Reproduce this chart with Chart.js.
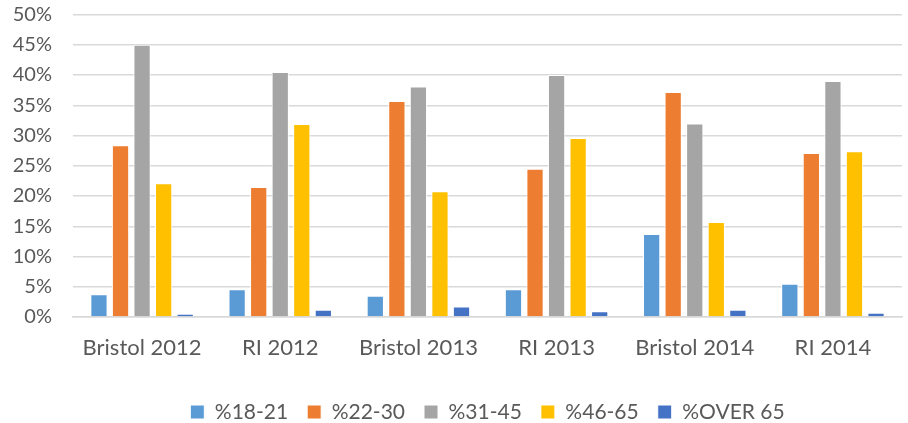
<!DOCTYPE html>
<html lang="en">
<head>
    <meta charset="UTF-8">
    <title>Age groups by year</title>
    <script src="https://cdn.jsdelivr.net/npm/chart.js"></script>
    <style>
        body { margin: 0; padding: 0; background: white; }
        .chart-box { width: 908px; height: 423px; }
    </style>
</head>
<body>
    <div class="chart-box">
        <canvas id="ageChart"></canvas>
    </div>

    <script>
        // categories and series (percent values)
        const categories = ['Bristol 2012', 'RI 2012', 'Bristol 2013', 'RI 2013', 'Bristol 2014', 'RI 2014'];
        const seriesNames = ['%18-21', '%22-30', '%31-45', '%46-65', '%OVER 65'];
        const age18to21 = [3.75, 4.6, 3.5, 4.6, 13.7, 5.5];
        const age22to30 = [28.4, 21.5, 35.7, 24.5, 37.2, 27.1];
        const age31to45 = [45.0, 40.5, 38.1, 40.0, 32.0, 39.0];
        const age46to65 = [22.1, 31.9, 20.8, 29.6, 15.7, 27.4];
        const ageOver65 = [0.55, 1.2, 1.75, 0.95, 1.2, 0.7];
        const seriesColors = ['#5B9BD5', '#ED7D31', '#A5A5A5', '#FFC000', '#4472C4'];

        const allSeries = [age18to21, age22to30, age31to45, age46to65, ageOver65];
        const textColor = '#595959';
        const fontFamily = 'Lato, Carlito, sans-serif';

        const ctx = document.getElementById('ageChart').getContext('2d');
        const chart = new Chart(ctx, {
            type: 'bar',
            data: {
                labels: categories,
                datasets: allSeries.map((vals, i) => ({
                    label: seriesNames[i],
                    data: vals,
                    backgroundColor: seriesColors[i],
                    borderColor: 'white',
                    borderWidth: 1,
                    categoryPercentage: 0.78,
                    barPercentage: 0.8
                }))
            },
            options: {
                animation: false,
                responsive: true,
                maintainAspectRatio: false,
                layout: { padding: { left: 0, right: 6, top: 14.5, bottom: -9.5 } },
                plugins: {
                    tooltip: { enabled: false },
                    legend: {
                        position: 'bottom',
                        fullSize: false,
                        labels: {
                            color: textColor,
                            font: { family: fontFamily, size: 21 },
                            boxWidth: 14,
                            boxHeight: 14,
                            padding: 19
                        }
                    }
                },
                scales: {
                    x: {
                        grid: { display: false },
                        border: { color: '#d9d9d9', width: 1.5 },
                        ticks: { color: textColor, font: { family: fontFamily, size: 22 }, padding: 10 },
                        afterFit: s => { s.height = 65.5; }
                    },
                    y: {
                        min: 0,
                        max: 50,
                        grid: {
                            color: '#d9d9d9',
                            lineWidth: 1.5,
                            drawTicks: true,
                            tickLength: 21,
                            tickColor: 'transparent'
                        },
                        border: { display: false },
                        ticks: {
                            stepSize: 5,
                            color: textColor,
                            font: { family: fontFamily, size: 20 },
                            padding: 0,
                            callback: v => v + '%'
                        },
                        afterFit: s => { s.width = 73; }
                    }
                }
            }
        });
    </script>
</body>
</html>
